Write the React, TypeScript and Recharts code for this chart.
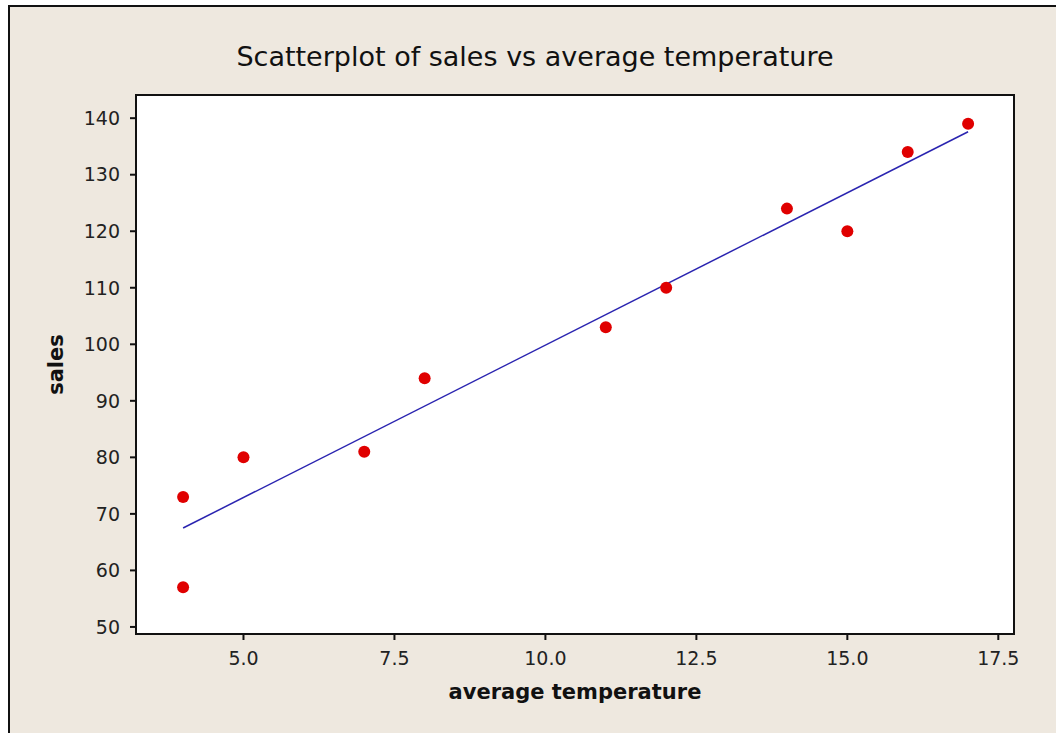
import { ScatterChart, Scatter, XAxis, YAxis, ReferenceArea } from 'recharts';

const temperature = [4, 4, 5, 7, 8, 11, 12, 14, 15, 16, 17];
const sales = [73, 57, 80, 81, 94, 103, 110, 124, 120, 134, 139];
const fitTemperature = [4, 17];
const fitSales = [67.5, 137.6];
const xTicks = [5, 7.5, 10, 12.5, 15, 17.5];
const yTicks = [50, 60, 70, 80, 90, 100, 110, 120, 130, 140];

const xDomain: [number, number] = [3.22, 17.76];
const yDomain: [number, number] = [48.75, 144.1];

const points = temperature.map((t, i) => ({ x: t, y: sales[i] }));
const fitLine = fitTemperature.map((t, i) => ({ x: t, y: fitSales[i] }));

const font = '"DejaVu Sans", sans-serif';

export default function App() {
  return (
    <div
      style={{
        position: 'absolute',
        left: 0,
        top: 0,
        width: 1056,
        height: 733,
        background: '#fff',
        fontFamily: font,
      }}
    >
      <div
        style={{
          position: 'absolute',
          left: 8,
          top: 5,
          width: 1056,
          height: 740,
          background: '#eee8df',
          borderTop: '2px solid #111',
          borderLeft: '2px solid #111',
        }}
      />
      <div
        style={{
          position: 'absolute',
          left: 0,
          top: 41,
          width: 1070,
          textAlign: 'center',
          fontSize: 27,
          color: '#111',
        }}
      >
        Scatterplot of sales vs average temperature
      </div>
      <div style={{ position: 'absolute', left: 0, top: 0 }}>
        <ScatterChart
          width={1056}
          height={733}
          margin={{ top: 95, right: 42, bottom: 59, left: 76 }}
        >
          <XAxis
            type="number"
            dataKey="x"
            domain={xDomain}
            ticks={xTicks}
            tickFormatter={(v: number) => v.toFixed(1)}
            allowDataOverflow
            height={40}
            tickSize={6}
            tickMargin={12}
            axisLine={{ stroke: '#111', strokeWidth: 2 }}
            tickLine={{ stroke: '#111', strokeWidth: 2 }}
            tick={{ fill: '#222', fontSize: 19, fontFamily: font }}
            label={{
              value: 'average temperature',
              position: 'insideBottom',
              offset: -25,
              fill: '#111',
              fontSize: 21,
              fontWeight: 'bold',
              fontFamily: font,
            }}
          />
          <YAxis
            type="number"
            dataKey="y"
            domain={yDomain}
            ticks={yTicks}
            allowDataOverflow
            width={60}
            tickSize={6}
            tickMargin={10}
            axisLine={{ stroke: '#111', strokeWidth: 2 }}
            tickLine={{ stroke: '#111', strokeWidth: 2 }}
            tick={{ fill: '#222', fontSize: 19, fontFamily: font }}
            label={{
              value: 'sales',
              angle: -90,
              position: 'insideLeft',
              offset: -20,
              textAnchor: 'middle',
              fill: '#111',
              fontSize: 21,
              fontWeight: 'bold',
              fontFamily: font,
            }}
          />
          <ReferenceArea
            x1={xDomain[0]}
            x2={xDomain[1]}
            y1={yDomain[0]}
            y2={yDomain[1]}
            fill="#ffffff"
            fillOpacity={1}
            stroke="#111"
            strokeWidth={2}
          />
          <Scatter
            data={fitLine}
            line={{ stroke: '#2a24b0', strokeWidth: 1.5 }}
            shape={() => <g />}
            isAnimationActive={false}
          />
          <Scatter
            data={points}
            fill="#e00000"
            shape={(p: any) => <circle cx={p.cx} cy={p.cy} r={6} fill="#e00000" />}
            isAnimationActive={false}
          />
        </ScatterChart>
      </div>
    </div>
  );
}
